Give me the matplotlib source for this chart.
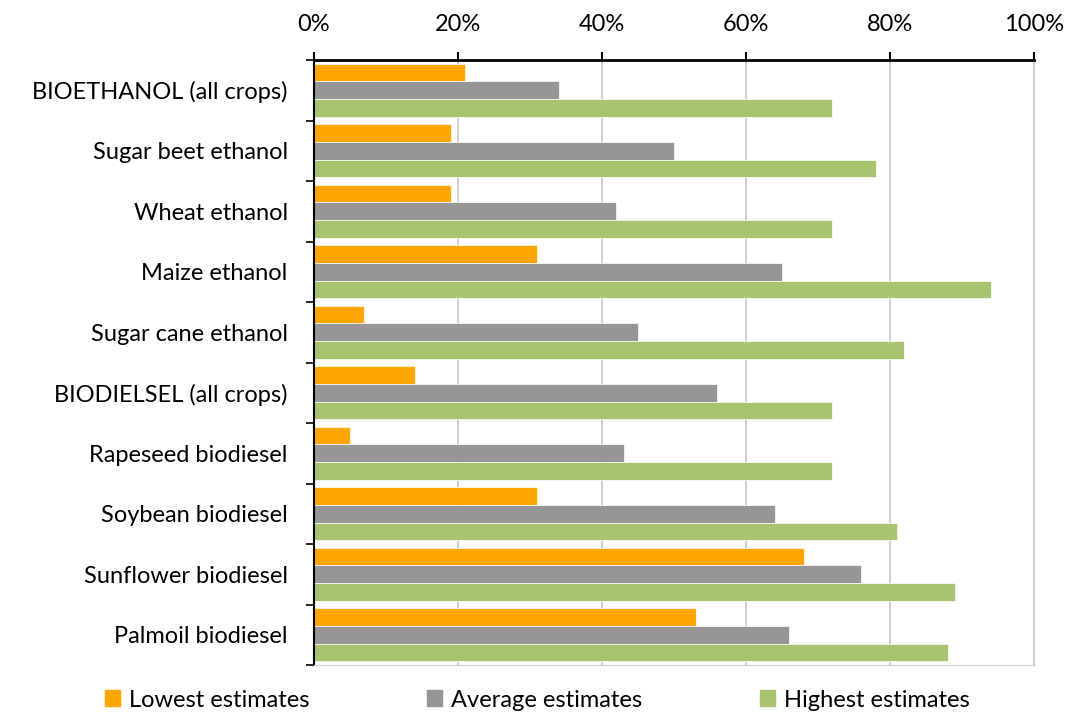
import numpy as np
import matplotlib.pyplot as plt
from matplotlib.patches import Patch
from matplotlib.ticker import FuncFormatter, MultipleLocator

plt.rcParams['font.family'] = ['Lato', 'DejaVu Sans']

# Data (percent)
crops = ['BIOETHANOL (all crops)', 'Sugar beet ethanol', 'Wheat ethanol',
         'Maize ethanol', 'Sugar cane ethanol', 'BIODIELSEL (all crops)',
         'Rapeseed biodiesel', 'Soybean biodiesel', 'Sunflower biodiesel',
         'Palmoil biodiesel']
lowest = [21, 19, 19, 31, 7, 14, 5, 31, 68, 53]
average = [34, 50, 42, 65, 45, 56, 43, 64, 76, 66]
highest = [72, 78, 72, 94, 82, 72, 72, 81, 89, 88]
series_names = ['Lowest estimates', 'Average estimates', 'Highest estimates']
colors = ['#FFA500', '#969696', '#A9C46E']

FS = 17

fig = plt.figure(figsize=(10.7, 7.16), dpi=100)
ax = fig.add_axes([0.2935, 0.0712, 0.6729, 0.8450])

y = np.arange(len(crops))
h = 0.292
for i, (vals, c) in enumerate(zip([lowest, average, highest], colors)):
    ax.barh(y + (i - 1) * h, vals, height=h, color=c, edgecolor='white', linewidth=0.5, zorder=2)

ax.set_ylim(len(crops) - 0.5, -0.5)
ax.set_xlim(0, 100)

# top axis with percent ticks
ax.xaxis.tick_top()
ax.xaxis.set_major_locator(MultipleLocator(20))
ax.xaxis.set_major_formatter(FuncFormatter(lambda v, p: f'{int(v)}%'))
ax.tick_params(axis='x', which='major', length=6, width=1.5, pad=12, labelsize=FS, direction='out')
ax.grid(axis='x', color='#C8C8C8', linewidth=1.2, zorder=0)

# y labels centred on groups, ticks at group boundaries
ax.set_yticks(y)
ax.set_yticklabels(crops, fontsize=FS)
ax.tick_params(axis='y', which='major', length=0, pad=19)
ax.set_yticks(np.arange(-0.5, len(crops) + 0.5, 1), minor=True)
ax.tick_params(axis='y', which='minor', length=6, width=1.2)

ax.spines['top'].set_linewidth(2)
ax.spines['left'].set_linewidth(1.5)
ax.spines['bottom'].set_color('#D0D0D0')
ax.spines['right'].set_color('#D0D0D0')

handles = [Patch(color=c, label=n) for c, n in zip(colors, series_names)]
fig.legend(handles=handles, loc='lower center', bbox_to_anchor=(0.502, -0.022), ncol=3,
           frameon=False, fontsize=FS, handlelength=0.65, handleheight=0.65,
           handletextpad=0.35, columnspacing=5.0)

fig.savefig('out.png', dpi=100)
